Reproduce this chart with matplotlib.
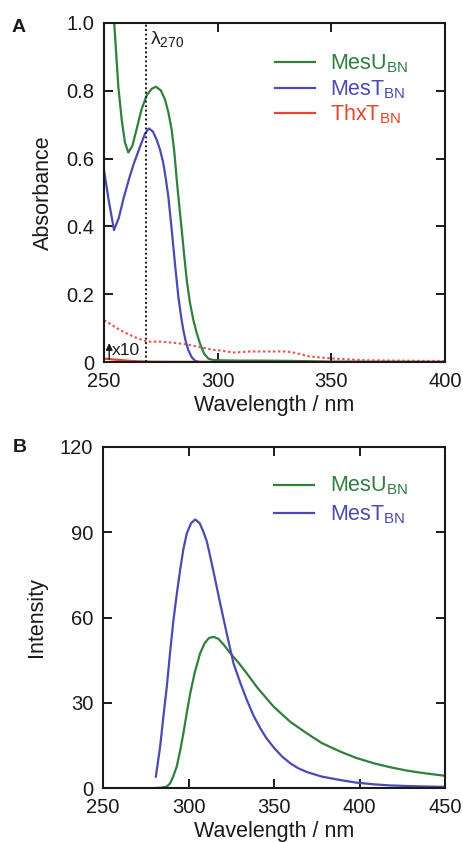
import matplotlib
matplotlib.use("Agg")
import matplotlib.pyplot as plt

plt.rcParams['font.family'] = ['Liberation Sans', 'DejaVu Sans']
plt.rcParams['mathtext.default'] = 'regular'

# ---------------- data ----------------
# Panel A: absorbance
wl_mesU_abs = [250, 252, 254.4, 256.3, 257.8, 259.2, 260.7, 262.5, 264.4, 266.5, 268.8,
               271, 272.9, 275, 276.8, 278.3, 279.8, 281, 282.0, 283.1, 284.2, 285.3,
               286.4, 287.8, 289.3, 290.8, 292.2, 294, 295.9, 298, 300, 310, 320, 335, 350, 400]
abs_mesU = [1.45, 1.22, 1.01, 0.812, 0.714, 0.648, 0.618, 0.638, 0.688, 0.745, 0.787,
            0.806, 0.812, 0.801, 0.775, 0.737, 0.684, 0.615, 0.537, 0.462, 0.389, 0.313,
            0.242, 0.175, 0.124, 0.085, 0.055, 0.025, 0.010, 0.006, 0.005, 0.004, 0.004,
            0.003, 0.001, 0.0]

wl_mesT_abs = [250, 252, 254.4, 256.5, 258.7, 261, 263.1, 266, 268, 269.7, 271.5, 273.2,
               274.7, 276.1, 277.2, 278.3, 279.8, 281.2, 282.7, 284.0, 284.9, 286, 287.1,
               288.5, 290, 292, 300, 400]
abs_mesT = [0.566, 0.48, 0.389, 0.425, 0.485, 0.54, 0.585, 0.638, 0.673, 0.689, 0.68, 0.655,
            0.625, 0.586, 0.54, 0.488, 0.389, 0.291, 0.193, 0.13, 0.094, 0.06, 0.035,
            0.015, 0.004, 0.0, 0.0, 0.0]

wl_thx_abs = [250, 255, 260, 265, 270, 280, 300, 350, 400]
abs_thx = [0.010, 0.007, 0.004, 0.002, 0.001, 0.0005, 0.0003, 0.0, 0.0]

wl_thx_x10 = [250, 251.2, 257, 262.9, 268.8, 274.6, 280.5, 286.4, 292.2, 298.1, 301, 306.9,
              314.2, 321.6, 330.4, 334.8, 340.6, 350.9, 365.5, 380, 400]
abs_thx_x10 = [0.123, 0.119, 0.094, 0.075, 0.06, 0.06, 0.057, 0.052, 0.044, 0.036, 0.034,
               0.028, 0.031, 0.031, 0.031, 0.026, 0.016, 0.010, 0.005, 0.004, 0.003]

lambda_exc = 268.5

# Panel B: emission
wl_mesT_em = [280.9, 283.4, 285.3, 287.3, 289.2, 291.2, 293.2, 295.1, 297, 299, 301.5,
              303.9, 306.5, 308.5, 310.7, 312.5, 314.5, 318.5, 322.5, 326.3, 330.3, 334.1, 338,
              342, 345.5, 349.8, 354.5, 359.5, 364, 369.3, 378, 388.8, 398, 408.3, 418,
              427.9, 440, 450]
int_mesT = [4.0, 14.5, 25, 35.6, 47.5, 59.1, 68.5, 76.7, 84, 89.6, 93.2,
            94.5, 93.2, 90.5, 86.8, 82.0, 76.5, 65, 54, 43.9, 37.0, 31, 25.5,
            21.0, 17.6, 14.3, 11.2, 8.7, 7.0, 5.6, 4.0, 2.8, 1.9, 1.3, 0.9,
            0.7, 0.5, 0.4]

wl_mesU_em = [280.5, 284, 287.3, 289.2, 291, 293.1, 295, 297, 299, 301, 303.8, 306.8, 309.5,
              312, 314.6, 317.5, 320.5, 324.4, 330.3, 335, 340, 349.8, 359.5, 369.3, 378,
              388.8, 398, 408.3, 418, 427.9, 438, 450]
int_mesU = [0, 0.1, 0.5, 1.6, 4.0, 7.5, 12.8, 19.2, 26.5, 33.3, 41, 47.4, 51,
            52.8, 53.2, 52.5, 50.5, 47.5, 43.3, 39.6, 35.5, 28.6, 23.3, 19.2, 15.8,
            12.8, 10.6, 8.7, 7.3, 6.1, 5.2, 4.3]

labels_A = ['MesU$_{BN}$', 'MesT$_{BN}$', 'ThxT$_{BN}$']
labels_B = ['MesU$_{BN}$', 'MesT$_{BN}$']

# ---------------- style ----------------
GREEN = '#2f7f3d'
BLUE = '#4a4ab2'
RED = '#e5452a'
RED_DOT = '#e2584a'
TXT = '#1a1a1a'

W, H = 463, 842
fig = plt.figure(figsize=(W / 100, H / 100), dpi=100)

def ax_rect(l, r, t, b):
    return [l / W, 1 - b / H, (r - l) / W, (b - t) / H]

axA = fig.add_axes(ax_rect(104, 445, 23, 362))
axB = fig.add_axes(ax_rect(103, 445, 447, 788))

def style(ax):
    for s in ax.spines.values():
        s.set_linewidth(1.5)
        s.set_color(TXT)
    ax.tick_params(direction='in', length=6.5, width=1.4, top=True, right=True,
                   labelsize=14.5, pad=7, colors=TXT)

# Panel A
axA.plot(wl_mesU_abs, abs_mesU, color=GREEN, lw=1.6)
axA.plot(wl_mesT_abs, abs_mesT, color=BLUE, lw=1.6)
axA.plot(wl_thx_abs, abs_thx, color=RED, lw=1.6)
axA.plot(wl_thx_x10, abs_thx_x10, color=RED_DOT, lw=1.5, ls=(0, (1.2, 1.2)))
axA.axvline(lambda_exc, color=TXT, lw=1.4, ls=(0, (1.0, 1.3)))
axA.set_xlim(250, 400)
axA.set_ylim(0, 1.0)
axA.set_xticks([250, 300, 350, 400])
axA.set_yticks([0, 0.2, 0.4, 0.6, 0.8, 1.0])
axA.set_yticklabels(['0', '0.2', '0.4', '0.6', '0.8', '1.0'])
style(axA)
axA.set_xlabel('Wavelength / nm', fontsize=15.5, labelpad=3, color=TXT)
axA.set_ylabel('Absorbance', fontsize=15.5, labelpad=9, color=TXT)

axA.text(lambda_exc + 1.6, 0.952, 'λ$_{270}$', fontsize=14, color=TXT, va='center', ha='left')
axA.annotate('', xy=(252.3, 0.064), xytext=(252.3, 0.0),
             arrowprops=dict(arrowstyle='-|>', color=TXT, lw=1.0, mutation_scale=10))
axA.text(253.6, 0.033, 'x10', fontsize=12.5, color=TXT, va='center', ha='left')

def legend(ax, rows_px, top_px, height_px, labels, colors):
    for y_px, lab, c in zip(rows_px, labels, colors):
        yf = 1 - (y_px - top_px) / height_px
        ax.plot([0.501, 0.618], [yf, yf], color=c, lw=1.6, transform=ax.transAxes, clip_on=False)
        ax.text(0.663, yf - 6.8 / height_px, lab, color=c, fontsize=15.5,
                transform=ax.transAxes, va='baseline', ha='left')

legend(axA, [62.3, 88.3, 113.3], 23, 339, labels_A, [GREEN, BLUE, RED])

# Panel B
axB.plot(wl_mesU_em, int_mesU, color=GREEN, lw=1.6)
axB.plot(wl_mesT_em, int_mesT, color=BLUE, lw=1.6)
axB.set_xlim(250, 450)
axB.set_ylim(0, 120)
axB.set_xticks([250, 300, 350, 400, 450])
axB.set_yticks([0, 30, 60, 90, 120])
style(axB)
axB.set_xlabel('Wavelength / nm', fontsize=15.5, labelpad=3, color=TXT)
axB.set_ylabel('Intensity', fontsize=15.5, labelpad=9, color=TXT)
legend(axB, [485, 513.3], 447, 341, labels_B, [GREEN, BLUE])

fig.text(12 / W, 1 - 27 / H, 'A', fontsize=14, fontweight='bold', color=TXT, va='center', ha='left')
fig.text(13 / W, 1 - 447 / H, 'B', fontsize=14, fontweight='bold', color=TXT, va='center', ha='left')

fig.savefig('out.png', dpi=100)
